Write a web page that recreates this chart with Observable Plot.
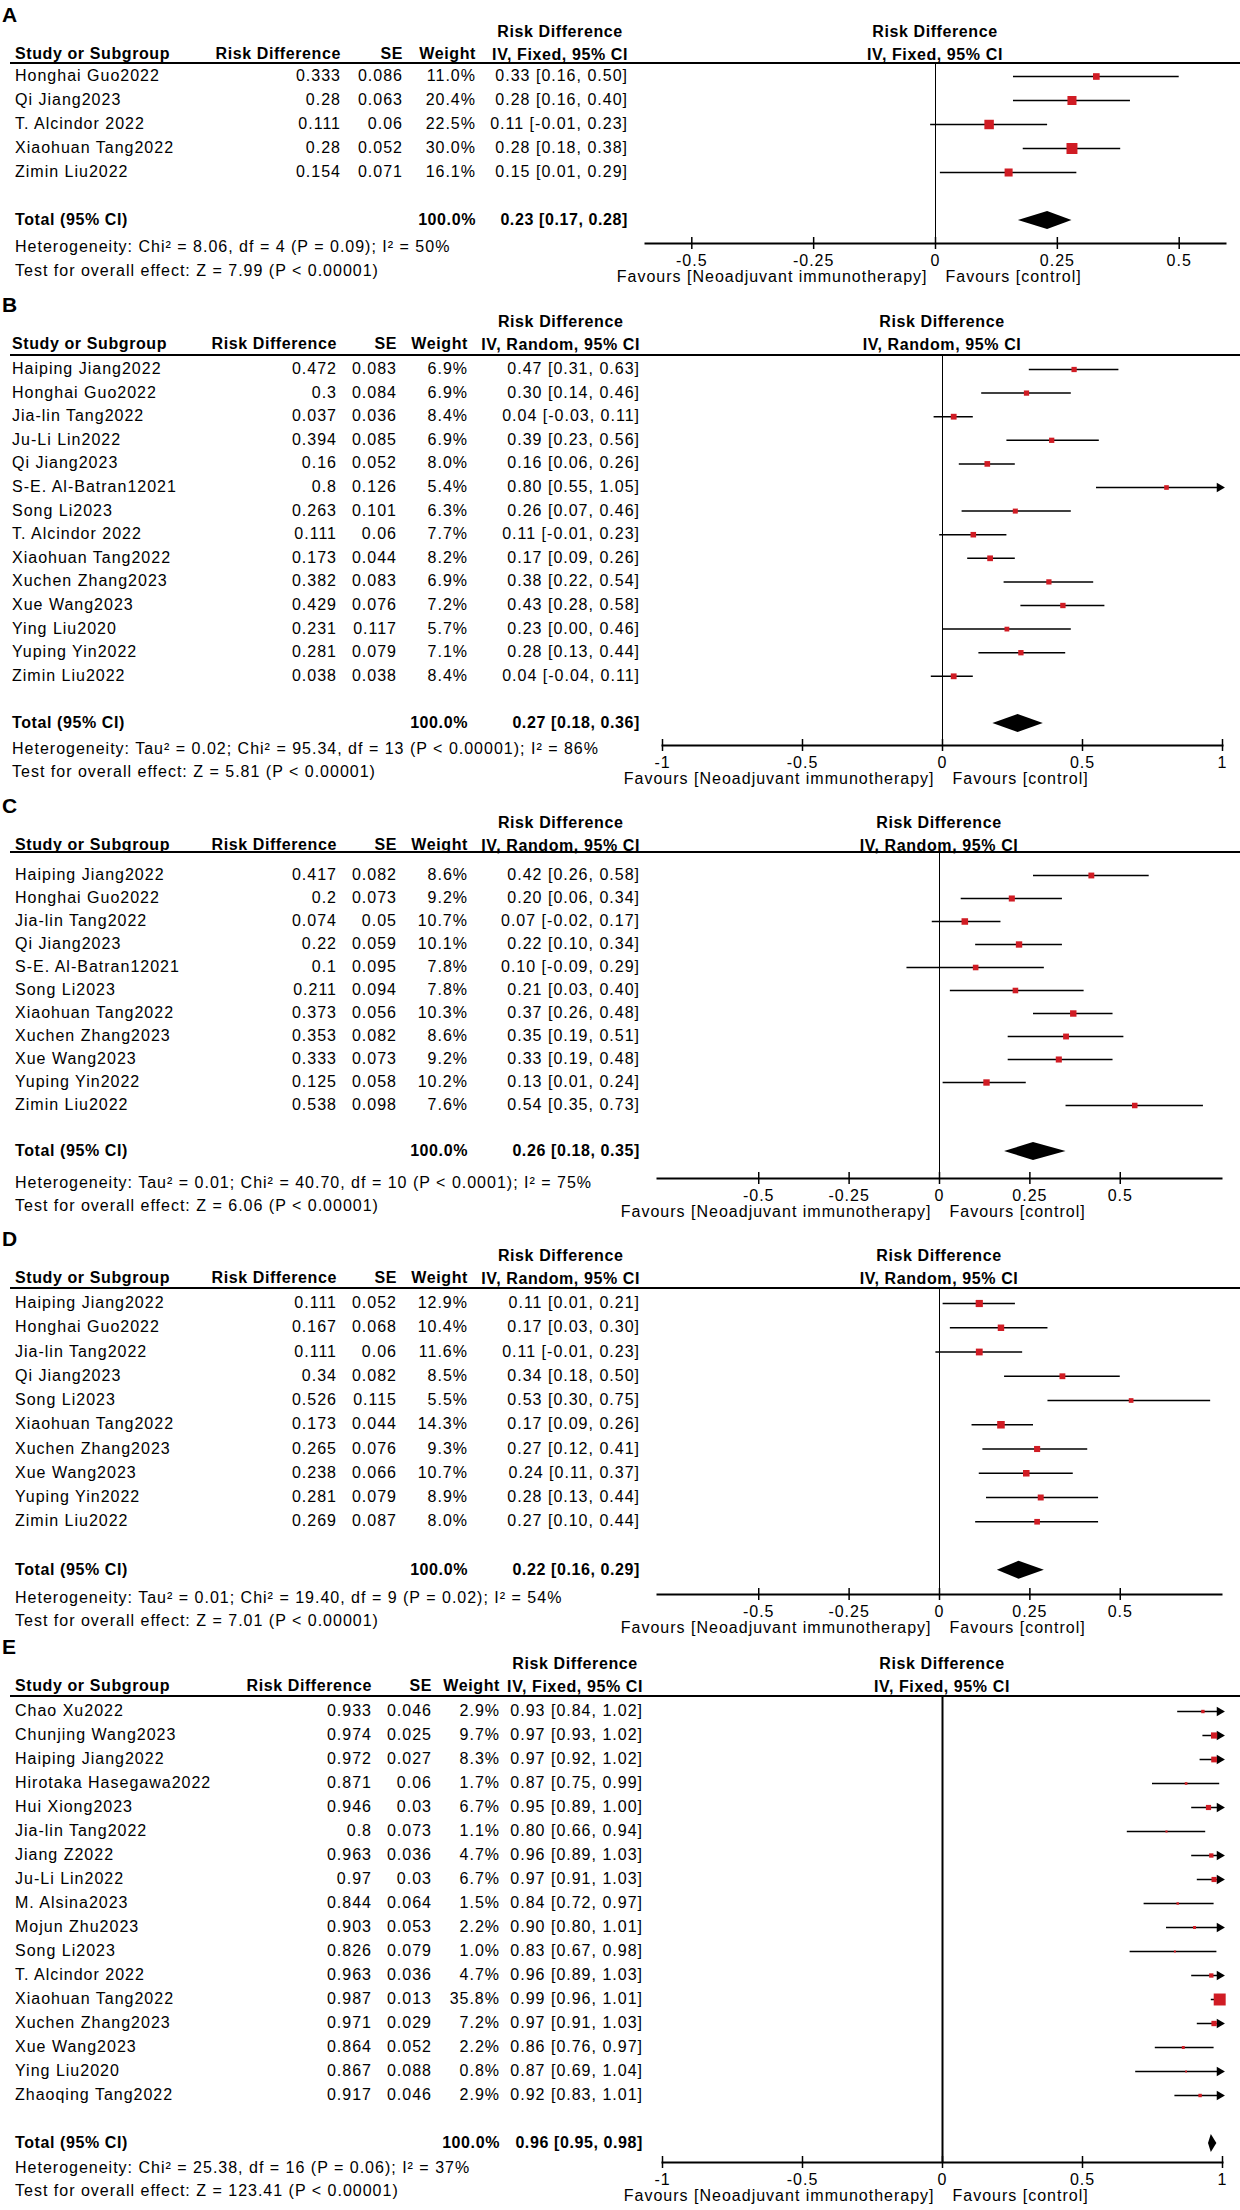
<!DOCTYPE html>
<html><head><meta charset="utf-8">
<script src="https://cdn.jsdelivr.net/npm/d3@7"></script>
<script src="https://cdn.jsdelivr.net/npm/@observablehq/plot@0.6"></script>
<style>
html,body{margin:0;padding:0;background:#fff;}
#page{position:relative;width:1240px;height:2210px;overflow:hidden;font-family:"Liberation Sans",Arial,sans-serif;color:#000;background:#fff;}
.t{position:absolute;white-space:nowrap;font-size:16px;line-height:20px;letter-spacing:1px;}
.b{font-weight:bold;letter-spacing:0.6px;}
.hdr{position:absolute;white-space:nowrap;font-size:16px;line-height:23px;font-weight:bold;letter-spacing:0.6px;text-align:center;}
.hline{position:absolute;height:2px;background:#000;}
</style></head><body><div id="page"></div>
<script>
// ---------- shared text ----------
const nullEffect = 0;
const favoursLeft = "Favours [Neoadjuvant immunotherapy]";
const favoursRight = "Favours [control]";
const colHeaders = ["Study or Subgroup", "Risk Difference", "SE", "Weight"];
const effectTitle = "Risk Difference";
const totalLabel = "Total (95% CI)";
const totalWeight = "100.0%";

// ---------- Panel A ----------
const methodA = "IV, Fixed, 95% CI";
const studiesA = ["Honghai Guo2022", "Qi Jiang2023", "T. Alcindor 2022", "Xiaohuan Tang2022", "Zimin Liu2022"];
const rdA = ["0.333", "0.28", "0.111", "0.28", "0.154"];
const seA = ["0.086", "0.063", "0.06", "0.052", "0.071"];
const weightA = [11.0, 20.4, 22.5, 30.0, 16.1];
const estA = [0.33, 0.28, 0.11, 0.28, 0.15];
const loA = [0.16, 0.16, -0.01, 0.18, 0.01];
const hiA = [0.50, 0.40, 0.23, 0.38, 0.29];
const totalA = [0.23, 0.17, 0.28];
const hetA = "Heterogeneity: Chi² = 8.06, df = 4 (P = 0.09); I² = 50%";
const testA = "Test for overall effect: Z = 7.99 (P < 0.00001)";
const ticksA = [-0.5, -0.25, 0, 0.25, 0.5];
const tickLabelsA = ["-0.5", "-0.25", "0", "0.25", "0.5"];

// ---------- Panel B ----------
const methodB = "IV, Random, 95% CI";
const studiesB = ["Haiping Jiang2022", "Honghai Guo2022", "Jia-lin Tang2022", "Ju-Li Lin2022", "Qi Jiang2023", "S-E. Al-Batran12021", "Song Li2023", "T. Alcindor 2022", "Xiaohuan Tang2022", "Xuchen Zhang2023", "Xue Wang2023", "Ying Liu2020", "Yuping Yin2022", "Zimin Liu2022"];
const rdB = ["0.472", "0.3", "0.037", "0.394", "0.16", "0.8", "0.263", "0.111", "0.173", "0.382", "0.429", "0.231", "0.281", "0.038"];
const seB = ["0.083", "0.084", "0.036", "0.085", "0.052", "0.126", "0.101", "0.06", "0.044", "0.083", "0.076", "0.117", "0.079", "0.038"];
const weightB = [6.9, 6.9, 8.4, 6.9, 8.0, 5.4, 6.3, 7.7, 8.2, 6.9, 7.2, 5.7, 7.1, 8.4];
const estB = [0.47, 0.30, 0.04, 0.39, 0.16, 0.80, 0.26, 0.11, 0.17, 0.38, 0.43, 0.23, 0.28, 0.04];
const loB = [0.31, 0.14, -0.03, 0.23, 0.06, 0.55, 0.07, -0.01, 0.09, 0.22, 0.28, 0.00, 0.13, -0.04];
const hiB = [0.63, 0.46, 0.11, 0.56, 0.26, 1.05, 0.46, 0.23, 0.26, 0.54, 0.58, 0.46, 0.44, 0.11];
const totalB = [0.27, 0.18, 0.36];
const hetB = "Heterogeneity: Tau² = 0.02; Chi² = 95.34, df = 13 (P < 0.00001); I² = 86%";
const testB = "Test for overall effect: Z = 5.81 (P < 0.00001)";
const ticksB = [-1, -0.5, 0, 0.5, 1];
const tickLabelsB = ["-1", "-0.5", "0", "0.5", "1"];

// ---------- Panel C ----------
const methodC = "IV, Random, 95% CI";
const studiesC = ["Haiping Jiang2022", "Honghai Guo2022", "Jia-lin Tang2022", "Qi Jiang2023", "S-E. Al-Batran12021", "Song Li2023", "Xiaohuan Tang2022", "Xuchen Zhang2023", "Xue Wang2023", "Yuping Yin2022", "Zimin Liu2022"];
const rdC = ["0.417", "0.2", "0.074", "0.22", "0.1", "0.211", "0.373", "0.353", "0.333", "0.125", "0.538"];
const seC = ["0.082", "0.073", "0.05", "0.059", "0.095", "0.094", "0.056", "0.082", "0.073", "0.058", "0.098"];
const weightC = [8.6, 9.2, 10.7, 10.1, 7.8, 7.8, 10.3, 8.6, 9.2, 10.2, 7.6];
const estC = [0.42, 0.20, 0.07, 0.22, 0.10, 0.21, 0.37, 0.35, 0.33, 0.13, 0.54];
const loC = [0.26, 0.06, -0.02, 0.10, -0.09, 0.03, 0.26, 0.19, 0.19, 0.01, 0.35];
const hiC = [0.58, 0.34, 0.17, 0.34, 0.29, 0.40, 0.48, 0.51, 0.48, 0.24, 0.73];
const totalC = [0.26, 0.18, 0.35];
const hetC = "Heterogeneity: Tau² = 0.01; Chi² = 40.70, df = 10 (P < 0.0001); I² = 75%";
const testC = "Test for overall effect: Z = 6.06 (P < 0.00001)";
const ticksC = [-0.5, -0.25, 0, 0.25, 0.5];
const tickLabelsC = ["-0.5", "-0.25", "0", "0.25", "0.5"];

// ---------- Panel D ----------
const methodD = "IV, Random, 95% CI";
const studiesD = ["Haiping Jiang2022", "Honghai Guo2022", "Jia-lin Tang2022", "Qi Jiang2023", "Song Li2023", "Xiaohuan Tang2022", "Xuchen Zhang2023", "Xue Wang2023", "Yuping Yin2022", "Zimin Liu2022"];
const rdD = ["0.111", "0.167", "0.111", "0.34", "0.526", "0.173", "0.265", "0.238", "0.281", "0.269"];
const seD = ["0.052", "0.068", "0.06", "0.082", "0.115", "0.044", "0.076", "0.066", "0.079", "0.087"];
const weightD = [12.9, 10.4, 11.6, 8.5, 5.5, 14.3, 9.3, 10.7, 8.9, 8.0];
const estD = [0.11, 0.17, 0.11, 0.34, 0.53, 0.17, 0.27, 0.24, 0.28, 0.27];
const loD = [0.01, 0.03, -0.01, 0.18, 0.30, 0.09, 0.12, 0.11, 0.13, 0.10];
const hiD = [0.21, 0.30, 0.23, 0.50, 0.75, 0.26, 0.41, 0.37, 0.44, 0.44];
const totalD = [0.22, 0.16, 0.29];
const hetD = "Heterogeneity: Tau² = 0.01; Chi² = 19.40, df = 9 (P = 0.02); I² = 54%";
const testD = "Test for overall effect: Z = 7.01 (P < 0.00001)";
const ticksD = [-0.5, -0.25, 0, 0.25, 0.5];
const tickLabelsD = ["-0.5", "-0.25", "0", "0.25", "0.5"];

// ---------- Panel E ----------
const methodE = "IV, Fixed, 95% CI";
const studiesE = ["Chao Xu2022", "Chunjing Wang2023", "Haiping Jiang2022", "Hirotaka Hasegawa2022", "Hui Xiong2023", "Jia-lin Tang2022", "Jiang Z2022", "Ju-Li Lin2022", "M. Alsina2023", "Mojun Zhu2023", "Song Li2023", "T. Alcindor 2022", "Xiaohuan Tang2022", "Xuchen Zhang2023", "Xue Wang2023", "Ying Liu2020", "Zhaoqing Tang2022"];
const rdE = ["0.933", "0.974", "0.972", "0.871", "0.946", "0.8", "0.963", "0.97", "0.844", "0.903", "0.826", "0.963", "0.987", "0.971", "0.864", "0.867", "0.917"];
const seE = ["0.046", "0.025", "0.027", "0.06", "0.03", "0.073", "0.036", "0.03", "0.064", "0.053", "0.079", "0.036", "0.013", "0.029", "0.052", "0.088", "0.046"];
const weightE = [2.9, 9.7, 8.3, 1.7, 6.7, 1.1, 4.7, 6.7, 1.5, 2.2, 1.0, 4.7, 35.8, 7.2, 2.2, 0.8, 2.9];
const estE = [0.93, 0.97, 0.97, 0.87, 0.95, 0.80, 0.96, 0.97, 0.84, 0.90, 0.83, 0.96, 0.99, 0.97, 0.86, 0.87, 0.92];
const loE = [0.84, 0.93, 0.92, 0.75, 0.89, 0.66, 0.89, 0.91, 0.72, 0.80, 0.67, 0.89, 0.96, 0.91, 0.76, 0.69, 0.83];
const hiE = [1.02, 1.02, 1.02, 0.99, 1.00, 0.94, 1.03, 1.03, 0.97, 1.01, 0.98, 1.03, 1.01, 1.03, 0.97, 1.04, 1.01];
const totalE = [0.96, 0.95, 0.98];
const hetE = "Heterogeneity: Chi² = 25.38, df = 16 (P = 0.06); I² = 37%";
const testE = "Test for overall effect: Z = 123.41 (P < 0.00001)";
const ticksE = [-1, -0.5, 0, 0.5, 1];
const tickLabelsE = ["-1", "-0.5", "0", "0.5", "1"];

// ---------- layout (pixels, page coordinates) ----------
const layouts = {
  A: {h1: 31, line: 63, row1: 76, rowH: 24, axis: 243, het: 247, test: 271, name: 15, rd: 341, se: 403, w: 476, ci: 628, xDomain: [-0.595, 0.595], xRange: [645, 1225], zeroW: 1},
  B: {h1: 321, line: 355, row1: 369, rowH: 23.6, axis: 745, het: 749, test: 772, name: 12, rd: 337, se: 397, w: 468, ci: 640, xDomain: [-1, 1], xRange: [662, 1222], zeroW: 1},
  C: {h1: 822, line: 852, row1: 875, rowH: 23, axis: 1178, het: 1183, test: 1206, name: 15, rd: 337, se: 397, w: 468, ci: 640, xDomain: [-0.78, 0.78], xRange: [657, 1221], zeroW: 1},
  D: {h1: 1255, line: 1288, row1: 1303, rowH: 24.25, axis: 1594, het: 1598, test: 1621, name: 15, rd: 337, se: 397, w: 468, ci: 640, xDomain: [-0.78, 0.78], xRange: [657, 1221], zeroW: 1},
  E: {h1: 1663, line: 1696, row1: 1711, rowH: 24, axis: 2162, het: 2168, test: 2191, name: 15, rd: 372, se: 432, w: 500, ci: 643, xDomain: [-1, 1], xRange: [662, 1222], zeroW: 2}
};

const page = document.getElementById("page");
const FONT = '"Liberation Sans", Arial, sans-serif';
const RED = "#d01c24";

function txt(s, x, yc, align, bold, extra) {
  const d = document.createElement("div");
  d.className = "t" + (bold ? " b" : "");
  d.textContent = s;
  d.style.top = (yc - 10) + "px";
  if (align === "right") d.style.right = (1240 - x) + "px";
  else d.style.left = x + "px";
  if (extra) Object.assign(d.style, extra);
  page.appendChild(d);
  return d;
}

function fmt(v) { return v.toFixed(2); }

function drawPanel(letter, P) {
  const L = layouts[letter];
  const n = P.studies.length;
  const svgLeft = 600, svgW = 640, svgTop = L.line;
  const frameH = L.axis - L.line;
  const svgH = frameH + 52;
  const v0 = (L.line - L.row1) / L.rowH, v1 = (L.axis - L.row1) / L.rowH;
  const rows = P.studies.map((s, i) => ({i, name: s, rd: P.rd[i], se: P.se[i], w: P.weight[i], est: P.est[i], lo: P.lo[i], hi: P.hi[i]}));
  const totIdx = n + 1;
  const h = 9 / L.rowH;
  const [te, tl, th] = P.total;
  const diamond = [
    {y: totIdx - h, x1: te, x2: te},
    {y: totIdx, x1: tl, x2: th},
    {y: totIdx + h, x1: te, x2: te}
  ];
  const arrows = rows.filter(d => d.hi >= L.xDomain[1]);
  const plot = Plot.plot({
    width: svgW, height: svgH,
    marginTop: 0, marginBottom: 52,
    marginLeft: L.xRange[0] - svgLeft, marginRight: svgLeft + svgW - L.xRange[1],
    x: {domain: L.xDomain, axis: null},
    y: {domain: [v0, v1], range: [0, frameH], axis: null},
    r: {domain: [0, 36], range: [0, 6.77]},
    style: {fontFamily: FONT, fontSize: "16px", color: "#000", background: "transparent", overflow: "visible", letterSpacing: "1px"},
    marks: [
      Plot.ruleX([nullEffect], {stroke: "#000", strokeWidth: L.zeroW}),
      Plot.ruleY(rows, {y: "i", x1: "lo", x2: "hi", stroke: "#000", strokeWidth: 1.5, clip: true}),
      Plot.dot(arrows, {x: () => L.xDomain[1], y: "i", symbol: "triangle2", rotate: 90, r: 4.5, fill: "#000", dx: -3}),
      Plot.dot(rows, {x: "est", y: "i", symbol: "square", r: "w", fill: RED}),
      Plot.areaX(diamond, {y: "y", x1: "x1", x2: "x2", fill: "#000", curve: "linear"}),
      Plot.frame({anchor: "bottom", stroke: "#000", strokeWidth: 2}),
      Plot.ruleX(P.ticks, {x: d => d, y1: v1, y2: v1 - 6 / L.rowH, stroke: "#000", strokeWidth: 1.5}),
      Plot.axisX({ticks: P.ticks, tickFormat: d => P.tickLabels[P.ticks.indexOf(d)], tickSize: 6, tickPadding: 5, fontSize: 16, strokeWidth: 1.5, stroke: "#000", fill: "#000"}),
      Plot.text([favoursLeft], {x: () => nullEffect, text: d => d, frameAnchor: "bottom", dy: 38, dx: -8, textAnchor: "end", fontSize: 16, fill: "#000"}),
      Plot.text([favoursRight], {x: () => nullEffect, text: d => d, frameAnchor: "bottom", dy: 38, dx: 10, textAnchor: "start", fontSize: 16, fill: "#000"})
    ]
  });
  plot.style.position = "absolute";
  plot.style.left = svgLeft + "px";
  plot.style.top = svgTop + "px";
  page.appendChild(plot);

  const ys = plot.scale("y"), xs = plot.scale("x");
  const rowY = i => svgTop + ys.apply(i);

  txt(letter, 2, L.h1 - 16, "left", true, {fontSize: "21px", lineHeight: "22px", top: (L.h1 - 16 - 11) + "px"});
  const hb = document.createElement("div");
  hb.className = "hdr";
  hb.style.top = (L.h1 - 11.5) + "px";
  hb.style.right = (1240 - L.ci) + "px";
  hb.appendChild(document.createTextNode(effectTitle));
  hb.appendChild(document.createElement("br"));
  hb.appendChild(document.createTextNode(P.method));
  page.appendChild(hb);
  const hb2 = document.createElement("div");
  hb2.className = "hdr";
  hb2.style.top = (L.h1 - 11.5) + "px";
  const x0 = svgLeft + xs.apply(nullEffect);
  hb2.style.left = (x0 - 200) + "px";
  hb2.style.width = "400px";
  hb2.appendChild(document.createTextNode(effectTitle));
  hb2.appendChild(document.createElement("br"));
  hb2.appendChild(document.createTextNode(P.method));
  page.appendChild(hb2);
  const h2 = L.h1 + 23;
  txt(colHeaders[0], L.name, h2, "left", true);
  txt(colHeaders[1], L.rd, h2, "right", true);
  txt(colHeaders[2], L.se, h2, "right", true);
  txt(colHeaders[3], L.w, h2, "right", true);
  const hl = document.createElement("div");
  hl.className = "hline";
  hl.style.left = "10px"; hl.style.width = "1230px"; hl.style.top = (L.line - 1) + "px";
  page.appendChild(hl);
  rows.forEach(d => {
    const y = rowY(d.i);
    txt(d.name, L.name, y, "left");
    txt(d.rd, L.rd, y, "right");
    txt(d.se, L.se, y, "right");
    txt(d.w.toFixed(1) + "%", L.w, y, "right");
    txt(`${fmt(d.est)} [${fmt(d.lo)}, ${fmt(d.hi)}]`, L.ci, y, "right");
  });
  const ty = rowY(totIdx);
  txt(totalLabel, L.name, ty, "left", true);
  txt(totalWeight, L.w, ty, "right", true);
  txt(`${fmt(te)} [${fmt(tl)}, ${fmt(th)}]`, L.ci, ty, "right", true);
  txt(P.het, L.name, L.het, "left");
  txt(P.test, L.name, L.test, "left");
}

drawPanel("A", {method: methodA, studies: studiesA, rd: rdA, se: seA, weight: weightA, est: estA, lo: loA, hi: hiA, total: totalA, het: hetA, test: testA, ticks: ticksA, tickLabels: tickLabelsA});
drawPanel("B", {method: methodB, studies: studiesB, rd: rdB, se: seB, weight: weightB, est: estB, lo: loB, hi: hiB, total: totalB, het: hetB, test: testB, ticks: ticksB, tickLabels: tickLabelsB});
drawPanel("C", {method: methodC, studies: studiesC, rd: rdC, se: seC, weight: weightC, est: estC, lo: loC, hi: hiC, total: totalC, het: hetC, test: testC, ticks: ticksC, tickLabels: tickLabelsC});
drawPanel("D", {method: methodD, studies: studiesD, rd: rdD, se: seD, weight: weightD, est: estD, lo: loD, hi: hiD, total: totalD, het: hetD, test: testD, ticks: ticksD, tickLabels: tickLabelsD});
drawPanel("E", {method: methodE, studies: studiesE, rd: rdE, se: seE, weight: weightE, est: estE, lo: loE, hi: hiE, total: totalE, het: hetE, test: testE, ticks: ticksE, tickLabels: tickLabelsE});
</script>
</body></html>
